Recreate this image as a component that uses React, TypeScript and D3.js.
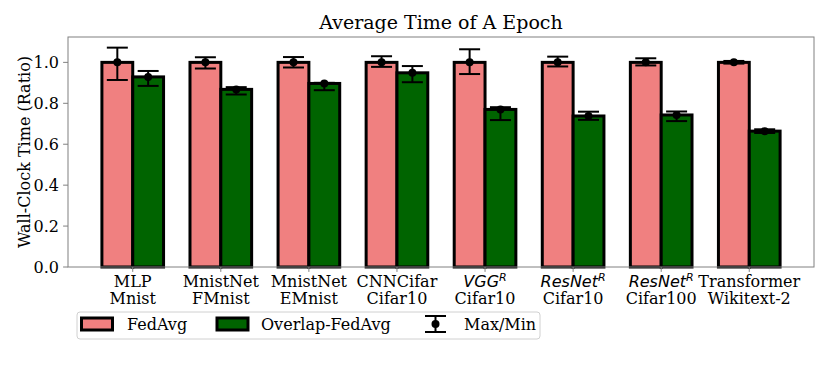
import React from "react";
import * as d3 from "d3";

const models = ["MLP", "MnistNet", "MnistNet", "CNNCifar", "VGG", "ResNet", "ResNet", "Transformer"];
const modelItalic = [false, false, false, false, true, true, true, false];
const datasets = ["Mnist", "FMnist", "EMnist", "Cifar10", "Cifar10", "Cifar10", "Cifar100", "Wikitext-2"];

const fedAvg = [1.0, 1.0, 1.0, 1.0, 1.0, 1.0, 1.0, 1.0];
const fedAvgMax = [1.072, 1.025, 1.026, 1.03, 1.064, 1.028, 1.02, 1.007];
const fedAvgMin = [0.914, 0.97, 0.975, 0.978, 0.943, 0.98, 0.985, 0.994];

const overlap = [0.929, 0.868, 0.897, 0.949, 0.77, 0.738, 0.743, 0.664];
const overlapMax = [0.958, 0.879, 0.9, 0.982, 0.781, 0.759, 0.76, 0.673];
const overlapMin = [0.885, 0.843, 0.864, 0.903, 0.718, 0.719, 0.713, 0.655];

const yTicks = [0, 0.2, 0.4, 0.6, 0.8, 1.0];

const W = 830;
const H = 378;
const L = 68, R = 814, T = 37, B = 267;
const BW = 0.35;
const PINK = "#f08080";
const GREEN = "#006400";
const SPINE = "#808080";
const SERIF = "'DejaVu Serif', serif";
const SANS = "'DejaVu Sans', sans-serif";

export default function App() {
  const x = d3.scaleLinear().domain([-0.735, 7.735]).range([L, R]);
  const y = d3.scaleLinear().domain([0, 1.124]).range([B, T]);
  const bw = x(BW) - x(0);
  const cap = 10.5;
  const tickLen = 4.9;

  const bars = (vals: number[], off: number, fill: string, key: string) =>
    vals.map((v, i) => {
      const cx = x(i + off);
      return (
        <rect
          key={key + i}
          x={cx - bw / 2}
          y={y(v)}
          width={bw}
          height={y(0) - y(v)}
          fill={fill}
          stroke="#000"
          strokeWidth={3}
        />
      );
    });

  const errs = (vals: number[], maxs: number[], mins: number[], off: number, key: string) =>
    vals.map((v, i) => {
      const cx = x(i + off);
      return (
        <g key={key + i} stroke="#000" strokeWidth={2}>
          <line x1={cx} x2={cx} y1={y(maxs[i])} y2={y(mins[i])} />
          <line x1={cx - cap} x2={cx + cap} y1={y(maxs[i])} y2={y(maxs[i])} />
          <line x1={cx - cap} x2={cx + cap} y1={y(mins[i])} y2={y(mins[i])} />
          <circle cx={cx} cy={y(v)} r={4} fill="#000" stroke="none" />
        </g>
      );
    });

  return (
    <svg width={W} height={H} style={{ position: "absolute", left: 0, top: 0 }}>
      <rect width={W} height={H} fill="#fff" />
      <text x={(L + R) / 2} y={29} textAnchor="middle" fontFamily={SERIF} fontSize={19} fill="#000">
        Average Time of A Epoch
      </text>
      {yTicks.map((t) => (
        <g key={"yt" + t}>
          <line x1={L - tickLen} x2={L} y1={y(t)} y2={y(t)} stroke={SPINE} strokeWidth={1} />
          <text x={L - 9} y={y(t)} dy="0.36em" textAnchor="end" fontFamily={SERIF} fontSize={16} fill="#000">
            {t.toFixed(1)}
          </text>
        </g>
      ))}
      <text
        transform={`translate(30,${(T + B) / 2}) rotate(-90)`}
        textAnchor="middle"
        fontFamily={SERIF}
        fontSize={16}
        fill="#000"
      >
        Wall-Clock Time (Ratio)
      </text>
      {bars(fedAvg, -BW / 2, PINK, "p")}
      {bars(overlap, BW / 2, GREEN, "g")}
      {errs(fedAvg, fedAvgMax, fedAvgMin, -BW / 2, "pe")}
      {errs(overlap, overlapMax, overlapMin, BW / 2, "ge")}
      <rect x={L} y={T} width={R - L} height={B - T} fill="none" stroke={SPINE} strokeWidth={1} />
      {models.map((m, i) => (
        <g key={"xt" + i}>
          <line x1={x(i)} x2={x(i)} y1={B} y2={B + tickLen} stroke={SPINE} strokeWidth={1} />
          {modelItalic[i] ? (
            <text x={x(i)} y={286.5} textAnchor="middle" fontFamily={SANS} fontStyle="italic" fontSize={16} fill="#000">
              {m}
              <tspan fontSize={11} dy={-6}>R</tspan>
            </text>
          ) : (
            <text x={x(i)} y={286.5} textAnchor="middle" fontFamily={SERIF} fontSize={16} fill="#000">
              {m}
            </text>
          )}
          <text x={x(i)} y={304} textAnchor="middle" fontFamily={SERIF} fontSize={16} fill="#000">
            {datasets[i]}
          </text>
        </g>
      ))}
      <g>
        <rect x={77} y={312} width={463} height={27} rx={3} fill="#fff" stroke="#d0d0d0" strokeWidth={1} />
        <rect x={81.5} y={318} width={31} height={12} fill={PINK} stroke="#000" strokeWidth={3} />
        <text x={127} y={330} fontFamily={SERIF} fontSize={16} fill="#000">FedAvg</text>
        <rect x={217} y={318} width={31} height={12} fill={GREEN} stroke="#000" strokeWidth={3} />
        <text x={261} y={330} fontFamily={SERIF} fontSize={16} fill="#000">Overlap-FedAvg</text>
        <g stroke="#000" strokeWidth={2}>
          <line x1={435.5} x2={435.5} y1={316} y2={332} />
          <line x1={425} x2={446} y1={316} y2={316} />
          <line x1={425} x2={446} y1={332} y2={332} />
          <circle cx={435.5} cy={324} r={4} fill="#000" stroke="none" />
        </g>
        <text x={464} y={330} fontFamily={SERIF} fontSize={16} fill="#000">Max/Min</text>
      </g>
    </svg>
  );
}
